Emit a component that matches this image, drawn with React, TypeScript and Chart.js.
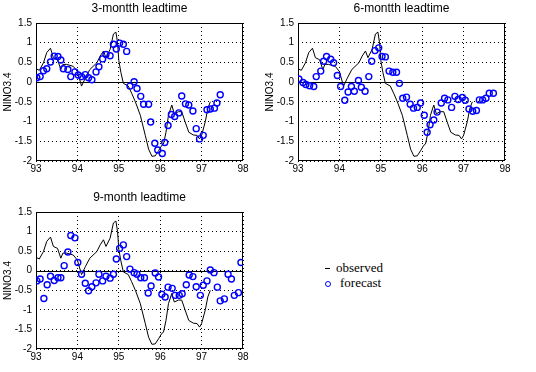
import React, { useEffect, useRef } from "react";
import { Chart, registerables } from "chart.js";
Chart.register(...registerables);

const xTicks = [93, 94, 95, 96, 97, 98];
const yTicks = [-2, -1.5, -1, -0.5, 0, 0.5, 1, 1.5];

// observed NINO3.4
const obsX = [93.0, 93.08, 93.18, 93.26, 93.35, 93.42, 93.52, 93.6, 93.65, 93.74, 93.9, 94.0, 94.1, 94.19, 94.3, 94.47, 94.55, 94.63, 94.69, 94.79, 94.87, 94.93, 94.97, 95.0, 95.05, 95.11, 95.23, 95.31, 95.4, 95.52, 95.64, 95.72, 95.8, 95.88, 95.96, 96.04, 96.08, 96.14, 96.2, 96.28, 96.34, 96.44, 96.52, 96.6, 96.69, 96.8, 96.89, 96.95, 97.0, 97.09, 97.15, 97.21];
const obsY = [0.34, 0.3, 0.49, 0.75, 0.86, 0.62, 0.57, 0.32, 0.45, 0.45, 0.4, 0.27, -0.1, 0.1, 0.32, 0.49, 0.66, 0.79, 0.62, 0.83, 1.22, 1.27, 1.0, 0.55, 0.25, -0.03, -0.1, -0.28, -0.5, -0.84, -1.35, -1.7, -1.88, -1.87, -1.74, -1.6, -1.57, -1.27, -0.84, -0.58, -0.8, -0.75, -0.75, -1.0, -1.27, -1.34, -1.35, -1.44, -1.35, -1.0, -0.67, -0.5];

// 3-month lead forecast
const f3X = [93.02, 93.1, 93.18, 93.26, 93.35, 93.44, 93.53, 93.6, 93.66, 93.77, 93.84, 93.94, 94.02, 94.1, 94.19, 94.27, 94.35, 94.45, 94.52, 94.61, 94.69, 94.79, 94.87, 94.94, 95.02, 95.11, 95.19, 95.27, 95.37, 95.44, 95.53, 95.6, 95.72, 95.77, 95.87, 95.94, 96.05, 96.11, 96.19, 96.27, 96.35, 96.45, 96.52, 96.61, 96.69, 96.79, 96.87, 96.95, 97.04, 97.13, 97.21, 97.31, 97.37, 97.45];
const f3Y = [0.11, 0.14, 0.29, 0.34, 0.51, 0.66, 0.65, 0.56, 0.34, 0.32, 0.14, 0.26, 0.18, 0.14, 0.19, 0.11, 0.06, 0.26, 0.39, 0.59, 0.7, 0.67, 0.96, 0.84, 0.99, 0.96, 0.78, -0.1, 0.01, -0.16, -0.36, -0.56, -0.56, -1.01, -1.55, -1.72, -1.81, -1.53, -1.1, -0.82, -0.87, -0.78, -0.35, -0.55, -0.58, -0.73, -1.18, -1.44, -1.35, -0.7, -0.68, -0.66, -0.53, -0.32];

// 6-month lead forecast
const f6X = [93.02, 93.12, 93.19, 93.28, 93.38, 93.44, 93.55, 93.62, 93.69, 93.79, 93.86, 93.95, 94.03, 94.13, 94.21, 94.29, 94.36, 94.46, 94.53, 94.62, 94.71, 94.78, 94.86, 94.95, 95.03, 95.11, 95.2, 95.29, 95.38, 95.45, 95.53, 95.62, 95.71, 95.79, 95.88, 95.96, 96.05, 96.12, 96.19, 96.28, 96.36, 96.46, 96.54, 96.62, 96.71, 96.79, 96.87, 96.97, 97.04, 97.13, 97.22, 97.31, 97.38, 97.46, 97.54, 97.62, 97.72];
const f6Y = [0.08, -0.01, -0.06, -0.09, -0.11, 0.14, 0.28, 0.53, 0.65, 0.58, 0.49, 0.17, -0.11, -0.46, -0.25, -0.11, -0.23, 0.04, -0.13, -0.23, 0.14, 0.53, 0.8, 0.87, 0.65, 0.64, 0.28, 0.25, 0.25, -0.03, -0.41, -0.38, -0.56, -0.66, -0.64, -0.53, -0.84, -1.27, -1.08, -0.96, -0.76, -0.53, -0.41, -0.45, -0.64, -0.36, -0.44, -0.39, -0.46, -0.68, -0.74, -0.72, -0.45, -0.45, -0.41, -0.28, -0.28];

// 9-month lead forecast
const f9X = [93.02, 93.1, 93.19, 93.27, 93.35, 93.44, 93.53, 93.6, 93.68, 93.77, 93.84, 93.94, 94.01, 94.1, 94.19, 94.27, 94.35, 94.45, 94.52, 94.61, 94.69, 94.79, 94.87, 94.94, 95.02, 95.11, 95.19, 95.27, 95.37, 95.44, 95.53, 95.62, 95.71, 95.78, 95.88, 95.96, 96.04, 96.12, 96.19, 96.29, 96.36, 96.46, 96.53, 96.63, 96.7, 96.79, 96.87, 96.97, 97.04, 97.13, 97.21, 97.3, 97.38, 97.45, 97.55, 97.64, 97.72, 97.79, 97.89, 97.95];
const f9Y = [-0.26, -0.21, -0.71, -0.36, -0.14, -0.25, -0.18, -0.18, 0.13, 0.48, 0.9, 0.84, 0.21, -0.09, -0.32, -0.51, -0.41, -0.31, -0.09, -0.26, -0.14, -0.19, -0.09, 0.3, 0.57, 0.66, 0.36, 0.04, -0.05, -0.09, -0.18, -0.18, -0.57, -0.39, -0.06, -0.16, -0.6, -0.67, -0.42, -0.45, -0.63, -0.63, -0.59, -0.36, -0.11, -0.15, -0.41, -0.63, -0.37, -0.26, 0.02, -0.05, -0.42, -0.77, -0.72, -0.09, -0.21, -0.63, -0.56, 0.21];

const boxPlugin = {
  id: "box",
  beforeDatasetsDraw(chart: any) {
    const { ctx, chartArea: a, scales } = chart;
    ctx.save();
    ctx.strokeStyle = "#000";
    ctx.lineWidth = 1;
    ctx.setLineDash([]);
    const y0 = Math.round(scales.y.getPixelForValue(0)) + 0.5;
    ctx.beginPath();
    ctx.moveTo(a.left, y0);
    ctx.lineTo(a.right, y0);
    ctx.stroke();
    ctx.strokeRect(Math.round(a.left) + 0.5, Math.round(a.top) + 0.5, Math.round(a.right - a.left) - 1, Math.round(a.bottom - a.top) - 1);
    ctx.restore();
  },
};

const tickFont = { family: "'Liberation Sans', Arial, sans-serif", size: 10 };

type PlotProps = {
  left: number; top: number; width: number; height: number;
  padTop: number; padRight: number;
  fx: number[]; fy: number[];
  title: string; titleTop: number;
};

function Plot(p: PlotProps) {
  const ref = useRef<HTMLCanvasElement>(null);
  useEffect(() => {
    if (!ref.current) return;
    const chart = new Chart(ref.current, {
      type: "scatter",
      data: {
        datasets: [
          {
            type: "line",
            data: obsX.map((x, i) => ({ x, y: obsY[i] })),
            borderColor: "#000",
            borderWidth: 1,
            pointRadius: 0,
            fill: false,
            tension: 0,
            order: 2,
          } as any,
          {
            type: "scatter",
            data: p.fx.map((x, i) => ({ x, y: p.fy[i] })),
            borderColor: "#0000ff",
            backgroundColor: "rgba(0,0,0,0)",
            pointRadius: 3,
            pointBorderWidth: 1.4,
            pointStyle: "circle",
            order: 1,
          } as any,
        ],
      },
      options: {
        responsive: false,
        animation: false,
        devicePixelRatio: 1,
        layout: { padding: { left: 0, right: p.padRight, top: p.padTop, bottom: 0 } },
        plugins: { legend: { display: false }, tooltip: { enabled: false }, title: { display: false } },
        scales: {
          x: {
            type: "linear",
            min: 93,
            max: 98,
            afterBuildTicks: (s: any) => { s.ticks = xTicks.map((v) => ({ value: v })); },
            afterFit: (s: any) => { s.height = 14; },
            ticks: { color: "#000", font: tickFont, padding: 2, maxRotation: 0, autoSkip: false, callback: (v: any) => String(v) },
            grid: { color: "#000", drawTicks: false, lineWidth: 1 },
            border: { display: false, dash: [1, 3] },
          },
          y: {
            type: "linear",
            min: -2,
            max: 1.5,
            afterBuildTicks: (s: any) => { s.ticks = yTicks.map((v) => ({ value: v })); },
            afterFit: (s: any) => { s.width = 36; },
            title: { display: true, text: "NINO3.4", color: "#000", font: tickFont, padding: { top: 2, bottom: 0 } },
            ticks: { color: "#000", font: tickFont, padding: 4, autoSkip: false, callback: (v: any) => String(v) },
            grid: { color: "#000", drawTicks: false, lineWidth: 1 },
            border: { display: false, dash: [1, 3] },
          },
        },
      } as any,
      plugins: [boxPlugin],
    });
    return () => chart.destroy();
  }, []);
  return (
    <>
      <canvas
        ref={ref}
        width={p.width}
        height={p.height}
        style={{ position: "absolute", left: p.left, top: p.top, width: p.width, height: p.height }}
      />
      <div
        style={{
          position: "absolute",
          left: p.left + 36,
          width: p.width - 36 - p.padRight,
          top: p.titleTop,
          textAlign: "center",
          font: "12px 'Liberation Sans', Arial, sans-serif",
          lineHeight: "14px",
          color: "#000",
          whiteSpace: "nowrap",
        }}
      >
        {p.title}
      </div>
    </>
  );
}

export default function App() {
  const legendFont = "13px 'Liberation Serif', 'DejaVu Serif', serif";
  return (
    <div style={{ position: "absolute", left: 0, top: 0, width: 536, height: 372, background: "#fff", overflow: "hidden" }}>
      <Plot left={0} top={0} width={260} height={175} padTop={23} padRight={17} fx={f3X} fy={f3Y} title="3-montth leadtime" titleTop={1} />
      <Plot left={262} top={0} width={260} height={175} padTop={23} padRight={17} fx={f6X} fy={f6Y} title="6-montth leadtime" titleTop={1} />
      <Plot left={0} top={180} width={260} height={183} padTop={32} padRight={17} fx={f9X} fy={f9Y} title="9-month leadtime" titleTop={190} />
      <div style={{ position: "absolute", left: 325, top: 268, width: 5, height: 1, background: "#000" }} />
      <div style={{ position: "absolute", left: 336, top: 260, font: legendFont, lineHeight: "16px", color: "#000" }}>observed</div>
      <div style={{ position: "absolute", left: 325, top: 281, width: 4, height: 4, border: "1px solid #0000ff", borderRadius: "50%" }} />
      <div style={{ position: "absolute", left: 340, top: 275, font: legendFont, lineHeight: "16px", color: "#000" }}>forecast</div>
    </div>
  );
}
